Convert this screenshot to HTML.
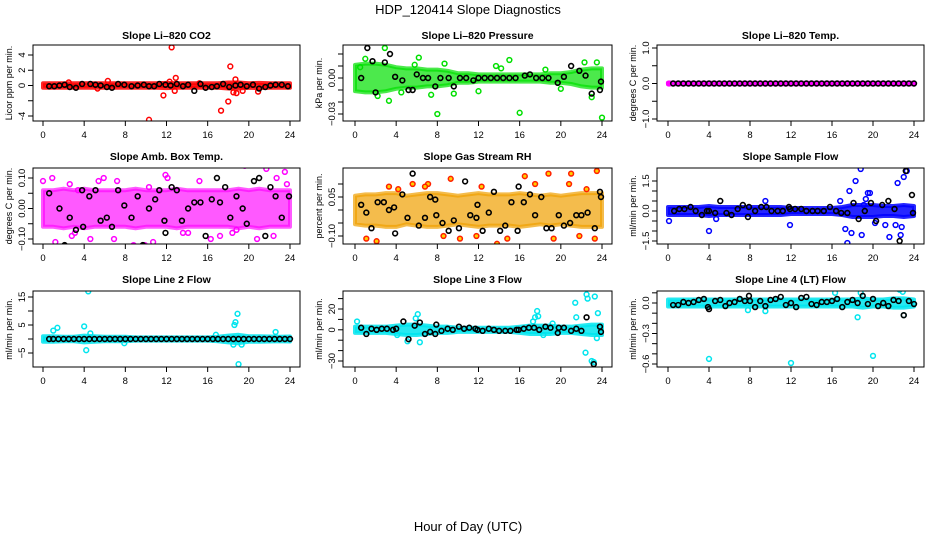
<!DOCTYPE html>
<html><head><meta charset="utf-8"><style>
body{margin:0;background:#fff}
svg text{font-family:"Liberation Sans",sans-serif}
</style></head><body>
<svg id="c" width="936" height="540" xmlns="http://www.w3.org/2000/svg">
<text x="468" y="14" font-size="13" text-anchor="middle">HDP_120414  Slope Diagnostics</text>
<text x="468" y="531" font-size="13" text-anchor="middle">Hour of Day (UTC)</text>
</svg>
<script>
// ---- data (hour, value) ----
const xTicks=[0,4,8,12,16,20,24];
// CO2
const co2BandHalf=[0.3,0.3,0.3,0.3,0.3,0.3,0.3,0.3,0.3,0.3,0.3,0.3,0.35,0.3,0.3,0.3,0.3,0.3,0.4,0.4,0.3,0.35,0.3,0.3,0.3];
const co2PtHours=[10.3,11.7,12.5,12.9,12.8,17.3,18,18.2,18.5,18.7,18.8,19.4,20.9,6.3,12.3,2.5,5.3,15.2];
const co2PtVals=[-4.5,-1.3,5.0,1.0,-0.7,-3.3,-2.1,2.5,-0.9,0.8,-1.0,-0.7,-0.8,0.6,0.5,0.4,-0.4,0.3];
const co2BlkHours=[0.6,1.1,1.6,2.1,2.6,3.2,3.8,4.6,5.1,5.6,6.2,6.7,7.3,7.9,8.6,9.2,9.8,10.3,10.8,11.3,11.9,12.4,13,13.6,14.1,14.7,15.3,15.8,16.4,16.9,17.5,18.1,18.7,19.2,19.8,20.4,21,21.6,22.1,22.6,23.2,23.8];
const co2BlkVals=[-0.1,-0.1,0,0.1,-0.2,-0.3,0.2,0.2,0.1,0,-0.2,-0.3,0.2,0.1,-0.1,0,0.1,-0.1,-0.1,0.2,0.1,0,0.2,-0.1,0.1,-0.7,0.2,-0.3,-0.2,-0.1,0.2,-0.2,0,0.1,-0.1,0.1,-0.4,-0.2,0,0.1,0.1,-0.1];
// Pressure
const presBandHalf=[0.011,0.012,0.012,0.011,0.009,0.008,0.008,0.007,0.007,0.006,0.004,0.004,0.003,0.003,0.003,0.003,0.003,0.003,0.003,0.004,0.004,0.005,0.007,0.008,0.008];
const presPtHours=[8,16,24,2.9,3.3,1,6.2,15,8.7,13.7,23.5,22.3,9.6,12,0.5,2.2,4.5,7.4,5.8,14.2,18.5,20,23];
const presPtVals=[-0.03,-0.029,-0.033,0.025,-0.019,0.016,0.017,0.015,0.012,0.010,0.013,0.013,-0.013,-0.011,0.009,-0.015,-0.012,-0.014,0.011,0.008,0.007,-0.009,-0.016];
const presBlkHours=[0.6,1.2,1.7,2,2.9,3.4,3.9,4.6,5.2,5.6,6,6.6,7.1,7.8,8.3,9.1,9.6,10.2,10.8,11.5,12,12.6,13.2,13.8,14.4,15,15.6,16.5,17,17.6,18.2,18.8,19.7,20.3,21,21.8,22.4,23,23.8,23.9];
const presBlkVals=[0,0.025,0.014,-0.012,0.013,0.02,0.001,-0.002,-0.01,-0.01,0.003,0,0,-0.007,0,0,-0.007,0,0,-0.002,0,0,0,0,0,0,0,0.002,0.003,0,0,0,-0.004,0.001,0.010,0.006,0.002,-0.013,-0.01,-0.003];
// Li-820 Temp
const tempBandHalf=[0.02,0.02,0.02,0.02,0.02,0.02,0.02,0.02,0.02,0.02,0.02,0.02,0.02,0.02,0.02,0.02,0.02,0.02,0.02,0.02,0.02,0.02,0.02,0.02,0.02];
const tempPtHours=[0.1];
const tempPtVals=[0];
const tempBlkHours=[0.5,1,1.5,2,2.5,3,3.5,4,4.5,5,5.5,6,6.5,7,7.5,8,8.5,9,9.5,10,10.5,11,11.5,12,12.5,13,13.5,14,14.5,15,15.5,16,16.5,17,17.5,18,18.5,19,19.5,20,20.5,21,21.5,22,22.5,23,23.5,24];
const tempBlkVals=[0,0,0,0,0,0,0,0,0,0,0,0,0,0,0,0,0,0,0,0,0,0,0,0,0,0,0,0,0,0,0,0,0,0,0,0,0,0,0,0,0,0,0,0,0,0,0,0];
// Amb box temp
const ambBandHalf=[0.06,0.06,0.065,0.06,0.065,0.06,0.06,0.06,0.06,0.065,0.06,0.06,0.06,0.065,0.06,0.06,0.06,0.06,0.06,0.065,0.06,0.065,0.06,0.06,0.06];
const ambPtHours=[0,0.9,0.4,2.8,3.1,2.6,5.4,5.9,7.2,10.7,11.9,12.1,13.6,14.1,15.2,17.2,18.4,19.6,21.7,22.7,23.5,23.7,1.2,4.6,6.9,8.8,9.9,16.3,18.8,20.8,3.4,10.3,22.4];
const ambPtVals=[0.09,0.1,-0.14,-0.09,-0.08,0.08,0.09,0.1,0.09,-0.11,0.11,0.1,-0.08,-0.08,0.09,-0.09,-0.08,0.14,0.13,0.1,0.12,0.08,-0.11,-0.1,-0.1,-0.12,-0.12,-0.1,-0.07,-0.1,0.06,0.07,-0.09];
const ambBlkHours=[0.6,1.1,1.6,2.1,2.6,3.2,3.8,3.9,4.5,5.1,5.6,6.2,6.7,7.3,7.8,7.9,8.6,9.2,9.7,10.3,10.9,11.3,11.8,11.9,12.5,13,13.5,14.1,14.7,15.3,15.8,16.4,16.9,17.2,17.7,18.2,18.8,19.4,19.8,20.5,21,21.6,22.1,22.6,23.2,23.8,23.9];
const ambBlkVals=[0.05,-0.14,0,-0.12,-0.03,-0.07,0.06,-0.06,0.04,0.06,-0.04,-0.03,-0.06,0.06,-0.16,0.01,-0.03,0.04,-0.12,0,0.03,0.06,-0.04,-0.08,0.07,0.06,-0.04,0,0.02,0.02,-0.09,0.03,0.1,0.02,0.07,-0.03,0.04,0,-0.05,0.09,0.1,-0.09,0.07,0.04,-0.03,-0.2,0.04];
// Gas stream RH
const rhBandHalf=[0.055,0.06,0.06,0.065,0.065,0.055,0.06,0.065,0.065,0.06,0.055,0.06,0.065,0.06,0.06,0.06,0.065,0.06,0.055,0.06,0.055,0.06,0.065,0.065,0.065];
const rhPtHours=[1.1,2.1,4.2,5.6,7.1,8.6,9.3,10.2,11.8,13.8,14.8,16.5,18.8,19.3,21,21.8,23.3,23.5,3.3,6.8,12.3,17.5,20.8,22.5];
const rhPtVals=[-0.11,-0.12,0.08,0.1,0.1,-0.1,0.12,-0.11,-0.1,-0.13,-0.11,0.13,0.14,-0.11,0.14,-0.1,-0.11,0.15,0.09,0.09,0.09,0.1,0.1,0.08];
const rhBlkHours=[0.6,1.1,1.6,2.2,2.8,3.3,3.8,3.9,4.6,5.1,5.6,6.2,6.8,7.3,7.8,7.9,8.5,9.1,9.6,10.1,10.7,11.2,11.8,11.9,12.4,13,13.5,14.1,14.6,15.2,15.8,15.9,16.4,17,17.5,18.1,18.6,19.1,19.8,20.3,20.9,21.5,22,22.6,23.3,23.8,23.9];
const rhBlkVals=[0.02,-0.01,-0.07,0.03,0.03,0,0.01,-0.09,0.06,-0.03,0.14,-0.06,-0.03,0.05,0.04,-0.02,-0.05,-0.08,-0.04,-0.07,0.11,-0.02,-0.03,0.02,-0.08,-0.01,0.07,-0.08,-0.06,0.03,-0.08,0.09,0.03,0.06,-0.02,0.05,-0.07,-0.07,-0.02,-0.06,-0.05,-0.02,-0.02,-0.01,-0.07,0.07,0.05];
// Sample flow
const sfBandHalf=[0.2,0.2,0.2,0.2,0.25,0.2,0.2,0.2,0.2,0.2,0.2,0.2,0.15,0.15,0.15,0.15,0.15,0.2,0.3,0.3,0.3,0.25,0.25,0.3,0.25];
const sfPtHours=[0.1,4.0,4.7,11.9,17.3,17.5,17.7,17.9,18.3,18.5,18.8,19.1,19.3,19.5,19.7,20.2,21.2,21.6,22.4,22.5,22.7,22.8,23,23.3,23.4,18.9,16.8,9.5,22.2];
const sfPtVals=[-0.5,-1.0,-0.4,-0.7,-0.9,-1.6,1.0,-1.1,1.5,-1.8,2.1,0.3,0.6,0.9,0.9,-0.6,-0.7,-1.3,1.4,-1.8,-1.2,-0.8,1.7,2.0,-1.8,-1.2,0.5,0.5,-0.7];
const sfBlkHours=[0.6,1.1,1.6,2.2,2.7,3.3,3.8,4.0,4.6,5.1,5.7,6.2,6.8,7.3,7.8,7.9,8.5,9.1,9.6,10.1,10.7,11.2,11.8,11.9,12.4,13,13.5,14.1,14.6,15.2,15.8,16.4,16.9,17.5,18.1,18.6,19.2,19.8,20.3,20.9,21.5,22.1,22.6,23.2,23.8,23.9];
const sfBlkVals=[0,0.1,0.1,0.2,0,-0.2,0,0,-0.1,0.5,-0.1,-0.2,0.1,0.3,-0.3,0.2,0,0.2,0.2,0,0,0,0.2,0.1,0.1,0.1,0,0,0,0,0.2,0,-0.1,-0.1,0.4,-0.4,0,0.4,-0.5,0.3,0.5,0.1,-1.5,2.0,0.8,-0.1];
// Line 2 flow
const l2BandHalf=[1,1,0.8,0.8,1.2,1,0.8,0.8,0.8,0.6,0.6,0.6,0.6,0.6,0.6,0.6,0.6,0.8,1.2,1.5,1,1,0.9,0.8,0.9];
const l2PtHours=[1,1.4,4.4,4.2,4.0,4.6,18.6,18.9,18.7,19,19.3,18.5,7.9,22.6,16.8];
const l2PtVals=[3,4,17,-4,4.5,2,5,9,6,-9,-2,-2,-1.5,2.5,1.5];
const l2BlkHours=[0.6,1,1.5,2,2.5,3,3.5,4,4.5,5,5.5,6,6.5,7,7.5,8,8.5,9,9.5,10,10.5,11,11.5,12,12.5,13,13.5,14,14.5,15,15.5,16,16.5,17,17.5,18,18.5,19,19.5,20,20.5,21,21.5,22,22.5,23,23.5,24];
const l2BlkVals=[0,0,0,0,0,0,0,0,0,0,0,0,0,0,0,0,0,0,0,0,0,0,0,0,0,0,0,0,0,0,0,0,0,0,0,0,0,0,0,0,0,0,0,0,0,0,0,0];
// Line 3 flow
const l3BandHalf=[3,3,3,3,4,5,5,4,3,3,2,2,2,2,2,2,3,4,4,4,3,3,4,5,5];
const l3PtHours=[0.2,5.1,6.3,6.1,5.9,4.1,17.7,17.8,17.5,17.3,21.4,21.5,22.4,22.5,22.6,23,23.2,23.3,23.5,23.6,18.3,19.2];
const l3PtVals=[8,-11,-12,15,11,-5,18,13,12,8,26,12,-22,34,30,-30,-31,32,-8,16,-5,6];
const l3BlkHours=[0.6,1.1,1.6,2.1,2.6,3.1,3.7,4,4.7,5.2,5.8,6.3,6.8,7.3,7.8,7.9,8.4,9,9.5,10.1,10.6,11.1,11.7,11.9,12.4,13,13.5,14,14.6,15.1,15.7,15.9,16.4,16.9,17.4,17.9,18.5,19,19.7,19.8,20.3,21,21.5,22,22.5,23.2,23.8,23.9];
const l3BlkVals=[2,-4,1,0,1,1,0,1,8,-9,4,7,-4,-2,-4,5,-1,1,0,3,1,2,1,0,-1,1,0,-1,-1,-1,0,0,1,2,2,0,3,2,-3,2,2,-1,1,-1,12,-33,3,-2];
// Line 4 (LT) flow
const l4BandHalf=[0.035,0.035,0.035,0.035,0.035,0.035,0.035,0.035,0.035,0.035,0.035,0.035,0.035,0.035,0.035,0.035,0.035,0.035,0.035,0.045,0.035,0.035,0.045,0.045,0.035];
const l4PtHours=[4,12,20,18.5,23,16.3,18.8,22.6,9.5,7.8,22.9];
const l4PtVals=[-0.55,-0.59,-0.52,-0.14,-0.12,0.1,0.1,0.13,-0.08,-0.07,0.11];
const l4BlkHours=[0.5,1,1.5,2,2.5,3,3.5,3.9,4,4.6,5.1,5.6,6,6.5,7,7.5,7.9,8,8.5,9,9.5,10,10.5,11,11.5,12,12.5,13,13.5,14,14.5,15,15.5,16,16.5,17,17.5,18,18.5,19,19.5,20,20.5,21,21.5,22,22.5,23,23.5,24];
const l4BlkVals=[-0.02,-0.02,0.01,0,0.01,0.03,0.04,-0.04,-0.06,0.02,0.03,-0.03,0,0.01,0.04,0.02,0.07,0.02,-0.04,0.02,-0.03,0.03,0.04,0.06,-0.02,0,-0.04,0.05,0.06,-0.01,-0.02,0.01,0.01,0.02,0.04,-0.04,0.01,0.03,0,0.07,-0.01,0.04,-0.03,0,-0.03,0.03,0.02,-0.12,0.02,-0.01];

// ---- layout ----
const cols=[{bx0:33,bx1:300,x0:43,x1:290},{bx0:343,bx1:612,x0:355,x1:602},{bx0:657,bx1:924,x0:668,x1:914}];
const rows=[{by0:45,by1:121,t:39},{by0:168,by1:244,t:160},{by0:291,by1:367,t:283}];
const panels=[
 {name:'co2',title:'Slope Li\u2013820 CO2',ylab:'Licor ppm per min.',c:0,r:0,v0:4,p0:55,v1:-4,p1:116,ticks:[-4,-2,0,2,4],labs:['-4','','0','2','4'],col:'#ff0000',op:0.85,band:co2BandHalf,ph:co2PtHours,pv:co2PtVals,bh:co2BlkHours,bv:co2BlkVals},
 {name:'pressure',title:'Slope Li\u2013820 Pressure',ylab:'kPa per min.',c:1,r:0,v0:0,p0:78,v1:-0.03,p1:114,ticks:[-0.03,-0.02,-0.01,0,0.01,0.02],labs:['\u22120.03','','','0.00','',''],col:'#00e000',op:0.7,band:presBandHalf,ph:presPtHours,pv:presPtVals,bh:presBlkHours,bv:presBlkVals},
 {name:'temp',title:'Slope Li\u2013820 Temp.',ylab:'degrees C per min.',c:2,r:0,v0:1,p0:48,v1:-1,p1:119,ticks:[-1,-0.5,0,0.5,1],labs:['\u22121.0','','0.0','','1.0'],col:'#ff00ff',op:1,band:tempBandHalf,ph:tempPtHours,pv:tempPtVals,bh:tempBlkHours,bv:tempBlkVals},
 {name:'amb-box-temp',title:'Slope Amb. Box Temp.',ylab:'degrees C per min.',c:0,r:1,v0:0.1,p0:178,v1:-0.1,p1:239,ticks:[-0.1,-0.05,0,0.05,0.1],labs:['\u22120.10','','0.00','','0.10'],col:'#ff00ff',op:0.65,band:ambBandHalf,ph:ambPtHours,pv:ambPtVals,bh:ambBlkHours,bv:ambBlkVals},
 {name:'gas-rh',title:'Slope Gas Stream RH',ylab:'percent per min.',c:1,r:1,v0:0.05,p0:197,v1:-0.1,p1:236,ticks:[-0.1,-0.05,0,0.05,0.1],labs:['\u22120.10','','','0.05',''],col:'#f0a000',op:0.7,band:rhBandHalf,ph:rhPtHours,pv:rhPtVals,bh:rhBlkHours,bv:rhBlkVals},
 {name:'sample-flow',title:'Slope Sample Flow',ylab:'ml/min per min.',c:2,r:1,v0:1.5,p0:181,v1:0,p1:211,ticks:[-1.5,-1,-0.5,0,0.5,1,1.5],labs:['\u22121.5','','','0.0','','','1.5'],col:'#0000ff',op:0.85,band:sfBandHalf,ph:sfPtHours,pv:sfPtVals,bh:sfBlkHours,bv:sfBlkVals},
 {name:'line2-flow',title:'Slope Line 2 Flow',ylab:'ml/min per min.',c:0,r:2,v0:15,p0:297,v1:-5,p1:353,ticks:[-5,0,5,10,15],labs:['\u22125','','5','','15'],col:'#00e5ee',op:0.85,band:l2BandHalf,ph:l2PtHours,pv:l2PtVals,bh:l2BlkHours,bv:l2BlkVals},
 {name:'line3-flow',title:'Slope Line 3 Flow',ylab:'ml/min per min.',c:1,r:2,v0:20,p0:309,v1:-30,p1:361,ticks:[-30,-20,-10,0,10,20,30],labs:['\u221230','','','0','','20',''],col:'#00e5ee',op:0.85,band:l3BandHalf,ph:l3PtHours,pv:l3PtVals,bh:l3BlkHours,bv:l3BlkVals},
 {name:'line4-flow',title:'Slope Line 4 (LT) Flow',ylab:'ml/min per min.',c:2,r:2,v0:0,p0:303,v1:-0.6,p1:364,ticks:[-0.6,-0.5,-0.4,-0.3,-0.2,-0.1,0,0.1],labs:['\u22120.6','','','\u22120.3','','','0.0',''],col:'#00e5ee',op:0.85,band:l4BandHalf,ph:l4PtHours,pv:l4PtVals,bh:l4BlkHours,bv:l4BlkVals}
];
const svg=document.getElementById('c');
const NS='http://www.w3.org/2000/svg';
function mk(tag,at,parent){const e=document.createElementNS(NS,tag);for(const k in at)e.setAttribute(k,at[k]);parent.appendChild(e);return e;}
panels.forEach(p=>{
 const C=cols[p.c],R=rows[p.r];
 const g=mk('g',{},svg);
 
 
 const xS=h=>C.x0+(C.x1-C.x0)*h/24;
 const yS=v=>p.p0+(v-p.v0)*(p.p1-p.p0)/(p.v1-p.v0);
 const clip='clip-'+p.name;
 const cp=mk('clipPath',{id:clip},g);mk('rect',{x:C.bx0,y:R.by0,width:C.bx1-C.bx0,height:R.by1-R.by0},cp);
 const pg=mk('g',{'clip-path':'url(#'+clip+')'},g);
 let up=[],dn=[];
 p.band.forEach((w,i)=>{up.push(xS(i)+','+yS(w));dn.unshift(xS(i)+','+yS(-w));});
 const band=mk('polygon',{points:up.concat(dn).join(' '),fill:p.col,'fill-opacity':p.op,stroke:p.col,'stroke-opacity':p.op,'stroke-width':4,'stroke-linejoin':'round'},pg);
 
 
 p.ph.forEach((h,i)=>{
  const c=mk('circle',{cx:xS(h),cy:yS(p.pv[i]),r:2.4,fill:p.name==='gas-rh'?'#ffd000':'none',stroke:p.name==='gas-rh'?'#ff2000':p.col,'stroke-width':1.5},pg);
  
  
 });
 p.bh.forEach((h,i)=>{
  const c=mk('circle',{cx:xS(h),cy:yS(p.bv[i]),r:2.4,fill:'none',stroke:'#000','stroke-width':1.6},pg);
  
  
 });
 const box=mk('rect',{x:C.bx0,y:R.by0,width:C.bx1-C.bx0,height:R.by1-R.by0,fill:'none',stroke:'#000','stroke-width':1},g);
 
 
 const xa=mk('g',{},g);
 
 
 mk('line',{x1:xS(0),x2:xS(24),y1:R.by1,y2:R.by1,stroke:'#000'},xa);
 xTicks.forEach(t=>{
  mk('line',{x1:xS(t),x2:xS(t),y1:R.by1,y2:R.by1+5,stroke:'#000'},xa);
  const tx=mk('text',{x:xS(t),y:R.by1+17,'font-size':9.5,'text-anchor':'middle'},xa);tx.textContent=t;
 });
 const ya=mk('g',{},g);
 
 
 const tv=p.ticks.filter(t=>yS(t)>=R.by0-2&&yS(t)<=R.by1+2);
 mk('line',{x1:C.bx0,x2:C.bx0,y1:Math.min(...tv.map(yS)),y2:Math.max(...tv.map(yS)),stroke:'#000'},ya);
 p.ticks.forEach((t,i)=>{
  const y=yS(t);if(y<R.by0-2||y>R.by1+2)return;
  mk('line',{x1:C.bx0-5,x2:C.bx0,y1:y,y2:y,stroke:'#000'},ya);
  if(p.labs[i]){const tx=mk('text',{x:0,y:0,'font-size':9.5,'text-anchor':'middle',transform:'translate('+(C.bx0-8)+','+y+') rotate(-90)'},ya);tx.textContent=p.labs[i];}
 });
 const yl=mk('text',{x:0,y:0,'font-size':9,'text-anchor':'middle',transform:'translate('+(C.bx0-21)+','+((R.by0+R.by1)/2)+') rotate(-90)'},g);
 yl.textContent=p.ylab;
 
 
 const ti=mk('text',{x:(C.bx0+C.bx1)/2,y:R.t,'font-size':10.5,'font-weight':'bold','text-anchor':'middle'},g);
 ti.textContent=p.title;
 
 
});
</script>
</body></html>
